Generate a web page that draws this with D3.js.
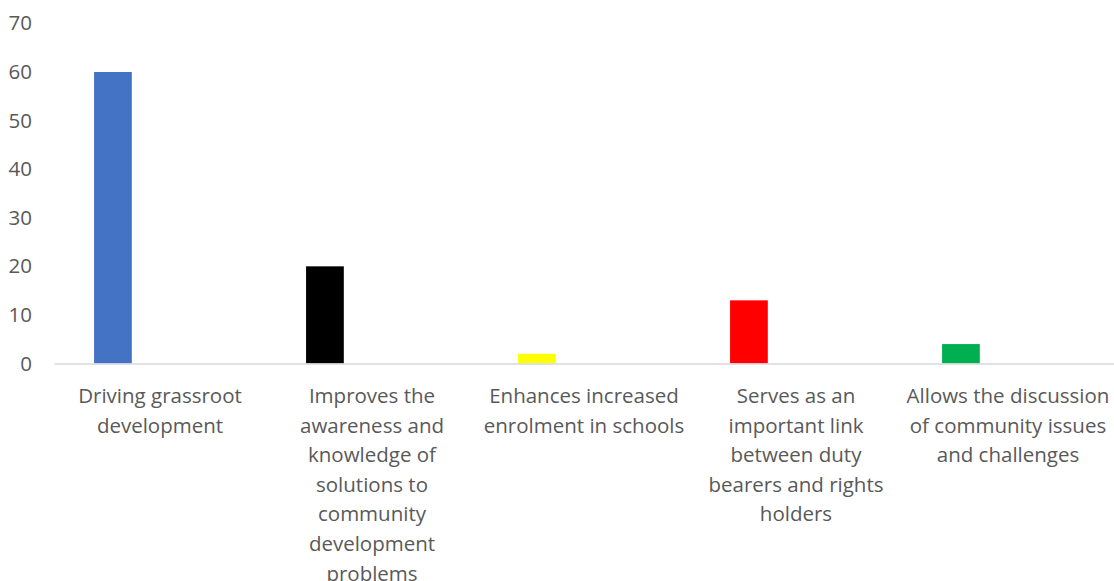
<!DOCTYPE html>
<html>
<head>
<meta charset="utf-8">
<script src="https://cdn.jsdelivr.net/npm/d3@7"></script>
<style>
  body { margin: 0; background: #fff; }
  text { font-family: "Open Sans", sans-serif; fill: #595959; }
</style>
</head>
<body>
<svg></svg>
<script>
// chart data
let categories = [
    ["Driving grassroot", "development"],
    ["Improves the", "awareness and", "knowledge of", "solutions to", "community", "development", "problems"],
    ["Enhances increased", "enrolment in schools"],
    ["Serves as an", "important link", "between duty", "bearers and rights", "holders"],
    ["Allows the discussion", "of community issues", "and challenges"]
]
let values = [60, 20, 2, 13, 4]
let colors = ["#4472c4", "#000000", "#ffff00", "#ff0000", "#00b050"]
let yTicks = [0, 10, 20, 30, 40, 50, 60, 70]

let width = 1114
let height = 581

let svg = d3.select("svg")
    .attr("width", width)
    .attr("height", height)

let ids = categories.map((c, i) => i)

let xScale = d3.scaleBand()
    .domain(ids)
    .range([54, 1114])

let yScale = d3.scaleLinear()
    .domain([0, 70])
    .range([363.5, 23.4])

// bars sit left of centre (empty second series in the original)
let barOffset = xScale.bandwidth() * 0.189
let barWidth = xScale.bandwidth() * 0.178

svg.selectAll("rect.bar")
    .data(values)
    .enter()
    .append("rect")
    .attr("class", "bar")
    .attr("x", (d, i) => xScale(i) + barOffset)
    .attr("width", barWidth)
    .attr("y", (d) => yScale(d))
    .attr("height", (d) => yScale(0) - yScale(d))
    .attr("fill", (d, i) => colors[i])

// y axis labels only
let yAxis = d3.axisLeft(yScale)
    .tickValues(yTicks)
    .tickSize(0)
    .tickPadding(0)

svg.append("g")
    .attr("transform", "translate(32, 0)")
    .call(yAxis)
    .call(g => g.select(".domain").remove())
    .selectAll("text")
    .attr("font-size", "20.5px")
    .attr("font-family", null)

// x axis line
let xAxis = d3.axisBottom(xScale)
    .tickSize(0)
    .tickFormat("")

let gx = svg.append("g")
    .attr("transform", "translate(0, " + yScale(0) + ")")
    .call(xAxis)
gx.select(".domain").attr("stroke", "#d9d9d9").attr("stroke-width", 1.5)

// multi-line category labels
let labels = svg.append("g")
categories.forEach((lines, i) => {
    let t = labels.append("text")
        .attr("text-anchor", "middle")
        .attr("font-size", "20.5px")
        .attr("x", xScale(i) + xScale.bandwidth() / 2)
        .attr("y", 403)
    lines.forEach((line, j) => {
        t.append("tspan")
            .attr("x", xScale(i) + xScale.bandwidth() / 2)
            .attr("y", 403 + j * 29.6)
            .text(line)
    })
})
</script>
</body>
</html>
